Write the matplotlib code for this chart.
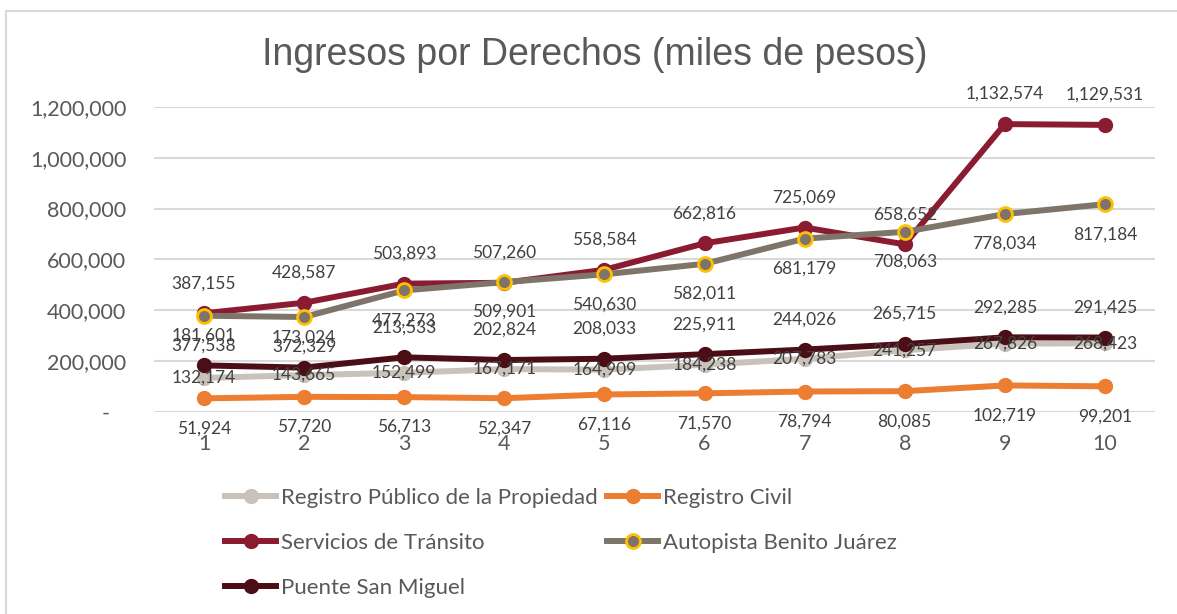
import matplotlib
matplotlib.use("Agg")
import matplotlib.pyplot as plt
from matplotlib.lines import Line2D

categories = ["1", "2", "3", "4", "5", "6", "7", "8", "9", "10"]
registro_publico = [132174, 143665, 152499, 167171, 164909, 184238, 207783, 241257, 267826, 268423]
registro_civil = [51924, 57720, 56713, 52347, 67116, 71570, 78794, 80085, 102719, 99201]
servicios_transito = [387155, 428587, 503893, 507260, 558584, 662816, 725069, 658652, 1132574, 1129531]
autopista = [377538, 372329, 477273, 509901, 540630, 582011, 681179, 708063, 778034, 817184]
puente = [181601, 173024, 213533, 202824, 208033, 225911, 244026, 265715, 292285, 291425]
names = ["Registro Público de la Propiedad", "Registro Civil", "Servicios de Tránsito",
         "Autopista Benito Juárez", "Puente San Miguel"]
yticks = [0, 200000, 400000, 600000, 800000, 1000000, 1200000]
ytick_labels = ["-   ", "200,000", "400,000", "600,000", "800,000", "1,000,000", "1,200,000"]

FONT = "Lato"
TXT = "#595959"
LBL = "#404040"

fig = plt.figure(figsize=(11.77, 6.14), dpi=100)
ax = fig.add_axes([154/1177, 1-411.5/614, (1155-154)/1177, (411.5-107)/614])

x = list(range(1, len(categories)+1))
series = [
    (registro_publico, "#C9C2BA", None, "center"),
    (registro_civil, "#ED7D31", None, "below"),
    (servicios_transito, "#8B1B30", None, "above"),
    (autopista, "#7F7469", "#FFC000", "below"),
    (puente, "#4B0E17", None, "above"),
]
handles = []
for i, (vals, col, edge, pos) in enumerate(series):
    mec = edge if edge else col
    mew = 2 if edge else 1
    ax.plot(x, vals, color=col, lw=4.3, marker="o", ms=10, mfc=col, mec=mec, mew=mew,
            zorder=3+i, solid_capstyle="round", clip_on=False)
    handles.append(Line2D([], [], color=col, lw=4.3, marker="o", ms=10, mfc=col, mec=mec, mew=mew))
    off = {"center": 0, "below": -30, "above": 30}[pos]
    for xi, v in zip(x, vals):
        ax.annotate(f"{v:,}", (xi, v), xytext=(0, off), textcoords="offset pixels",
                    ha="center", va="center", fontsize=12.5, color=LBL, family=FONT,
                    zorder=10, annotation_clip=False)

ax.set_xlim(0.5, len(categories)+0.5)
ax.set_ylim(0, 1200000)
ax.set_xticks(x)
ax.set_xticklabels(categories, fontsize=15.5, color=TXT, family=FONT)
ax.set_yticks(yticks)
ax.set_yticklabels(ytick_labels, fontsize=15.5, color=TXT, family=FONT)
ax.tick_params(axis="both", length=0)
ax.tick_params(axis="x", pad=16)
ax.tick_params(axis="y", pad=20)
ax.grid(axis="y", color="#D9D9D9", lw=1.5)
ax.set_axisbelow(True)
for s in ax.spines.values():
    s.set_visible(False)

fig.text(595/1177, 1-55/614, "Ingresos por Derechos (miles de pesos)", ha="center", va="center",
         fontsize=27, color=TXT, family="Liberation Sans")

order = [0, 2, 4, 1, 3]
leg = fig.legend([handles[i] for i in order], [names[i] for i in order], ncol=2,
                 loc="upper left", bbox_to_anchor=(214/1177, 1-477/614), frameon=False,
                 prop={"family": FONT, "size": 16}, labelcolor=TXT, handlelength=2.3,
                 handletextpad=0.2, columnspacing=0.43, labelspacing=1.12, borderpad=0)

# chart border
fig.add_artist(Line2D([6/1177, 1], [1-11/614, 1-11/614], color="#D9D9D9", lw=1.5))
fig.add_artist(Line2D([6/1177, 6/1177], [0, 1-11/614], color="#D9D9D9", lw=1.5))

fig.savefig("out.png", dpi=100)
